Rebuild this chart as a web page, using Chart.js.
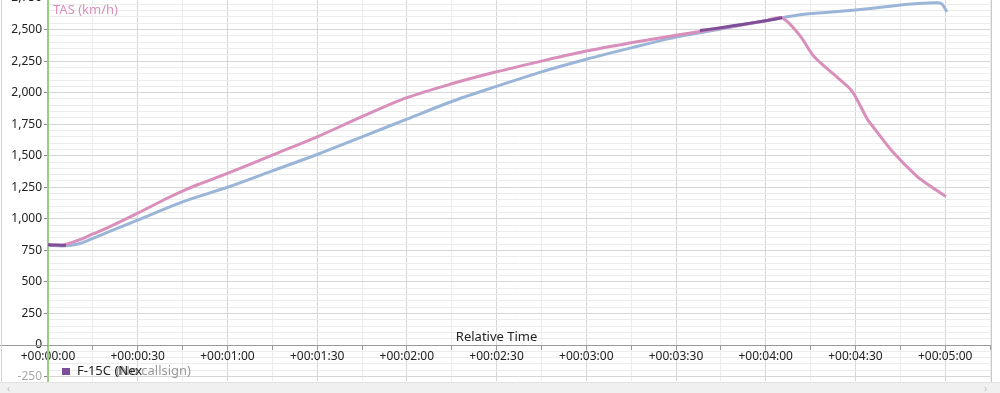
<!DOCTYPE html>
<html>
<head>
<meta charset="utf-8">
<script src="https://cdn.jsdelivr.net/npm/chart.js@4/dist/chart.umd.min.js"></script>
<style>
  body { margin: 0; background: #fff; }
  #wrap { position: relative; width: 1000px; height: 393px; overflow: hidden; }
  #box { position: absolute; left: 0; top: -20px; width: 1000px; height: 402px; }
  #edgeL { position: absolute; left: 1px; top: 0; width: 1px; height: 393px; background: #d4d4d4; }
  #edgeR { position: absolute; left: 991px; top: 0; width: 1px; height: 382px; background: #c8c8c8; }
  #scroll { position: absolute; left: 0; top: 382px; width: 1000px; height: 11px; background: #f0f0f0;
            border-top: 1px solid #e2e2e2; font: 10px "Noto Sans", sans-serif; color: #c0c0c0; }
  #scroll span { position: absolute; top: -2px; }
</style>
</head>
<body>
<div id="wrap">
  <div id="box"><canvas id="tasChart" width="1000" height="402"></canvas></div>
  <div id="edgeL"></div>
  <div id="edgeR"></div>
  <div id="scroll"><span style="left:7px">‹</span><span style="left:984px">›</span></div>
</div>
<script>
// TAS 데이터 (초, km/h)
const pinkTime = [0, 5, 10, 15, 20, 30, 40, 45, 50, 60, 75, 90, 105, 120, 135, 150, 165, 180, 195, 210, 225, 240, 245.5,
  251.5, 256, 262.5, 267.6, 269.5, 274, 276, 282.6, 290.6, 295, 300.3];
const pinkTas = [795, 792, 830, 880, 930, 1045, 1165, 1220, 1270, 1360, 1505, 1650, 1810, 1960, 2070, 2165, 2250, 2330, 2395, 2455, 2510, 2570, 2593,
  2450, 2290, 2150, 2045, 1990, 1790, 1726, 1527, 1336, 1260, 1177];

const blueTime = [0, 5, 10, 15, 20, 30, 45, 60, 75, 90, 105, 120, 135, 150, 165, 180, 195, 210, 225, 240, 251, 260, 270, 280, 285, 290, 297.7, 299, 300.6];
const blueTas = [790, 785, 800, 845, 895, 990, 1135, 1250, 1380, 1510, 1650, 1790, 1930, 2050, 2165, 2265, 2355, 2440, 2505, 2570, 2615, 2635, 2655, 2680, 2695, 2705, 2712, 2700, 2640];

const purpleTime = [0, 3, 6, null, 218, 225, 232, 240, 245.5];
const purpleTas = [795, 792, 790, null, 2492, 2515, 2540, 2570, 2593];

// 눈금 (y: 50 간격 보조선, 250마다 라벨)
const yFirstTick = -250;
const yLastTick = 2750;
const yStep = 50;

const legendName = 'F-15C (Nex';
const legendSub = '(No callsign)';

function pts(ts, vs) {
  return ts.map((t, i) => ({ x: t, y: vs[i] }));
}

function fmtTime(s) {
  const m = Math.floor(s / 60);
  const r = s % 60;
  return '+00:0' + m + ':' + (r < 10 ? '0' : '') + r;
}

const extras = {
  id: 'extras',
  afterDraw(chart) {
    const c = chart.ctx;
    const xs = chart.scales.x;
    const ys = chart.scales.y;
    const area = chart.chartArea;
    const y0 = ys.getPixelForValue(0);
    c.save();
    // 축선 왼쪽 연장
    c.strokeStyle = '#9a9a9a';
    c.lineWidth = 1;
    c.beginPath();
    c.moveTo(0, Math.round(y0) + 0.5);
    c.lineTo(area.left, Math.round(y0) + 0.5);
    c.stroke();
    // 축 제목
    c.font = '13px "Noto Sans"';
    c.fillStyle = '#222';
    c.textAlign = 'center';
    c.textBaseline = 'middle';
    c.fillText('Relative Time', xs.getPixelForValue(150), y0 - 8);
    c.textAlign = 'left';
    c.fillStyle = '#d98fbb';
    c.fillText('TAS (km/h)', area.left + 5, area.top + 12);
    // 범례
    const ly = area.bottom - 10;
    c.fillStyle = '#7c4f98';
    c.fillRect(62, ly - 3, 8, 7);
    c.font = '13px "Noto Sans"';
    c.fillStyle = '#9a9a9a';
    c.textAlign = 'right';
    c.fillText(legendSub, 191, ly);
    c.fillStyle = '#222';
    c.textAlign = 'left';
    c.fillText(legendName, 77, ly);
    c.restore();
  }
};

const ctx = document.getElementById('tasChart').getContext('2d');
new Chart(ctx, {
  type: 'line',
  data: {
    datasets: [
      {
        label: 'F-15C',
        data: pts(purpleTime, purpleTas),
        borderColor: '#7c4f98',
        borderWidth: 3,
        pointRadius: 0,
        tension: 0.3,
        spanGaps: false,
        order: 0
      },
      {
        label: 'pink',
        data: pts(pinkTime, pinkTas),
        borderColor: '#d98fbb',
        borderWidth: 3,
        pointRadius: 0,
        tension: 0.3,
        order: 1
      },
      {
        label: 'blue',
        data: pts(blueTime, blueTas),
        borderColor: '#9ab5d8',
        borderWidth: 3,
        pointRadius: 0,
        tension: 0.3,
        order: 2
      }
    ]
  },
  options: {
    responsive: false,
    animation: false,
    devicePixelRatio: 1,
    layout: { autoPadding: false, padding: { left: 0, right: 10, top: 18, bottom: 1 } },
    plugins: { legend: { display: false }, tooltip: { enabled: false } },
    scales: {
      x: {
        type: 'linear',
        position: { y: 0 },
        min: 0,
        max: 315,
        afterFit(scale) { scale.paddingLeft = 0; scale.paddingRight = 0; scale.paddingTop = 0; scale.paddingBottom = 0; },
        ticks: {
          stepSize: 15,
          autoSkip: false,
          maxRotation: 0,
          padding: 0,
          color: '#222',
          font: { family: 'Noto Sans', size: 12 },
          callback: v => (v % 30 === 0 ? fmtTime(v) : '')
        },
        grid: {
          color: c => (c.tick && c.tick.value % 30 === 0 ? '#d6d6d6' : '#ececec'),
          tickLength: 4,
          tickColor: '#9a9a9a'
        },
        border: { color: '#9a9a9a', width: 1 }
      },
      y: {
        min: -285,
        max: 2750,
        afterBuildTicks(scale) {
          const t = [];
          for (let v = yFirstTick; v <= yLastTick; v += yStep) t.push({ value: v });
          scale.ticks = t;
        },
        afterFit(scale) { scale.width = 48; scale.paddingTop = 0; scale.paddingBottom = 0; },
        ticks: {
          autoSkip: false,
          padding: 2,
          color: c => (c.tick && c.tick.value < 0 ? '#a8a8a8' : '#222'),
          font: { family: 'Noto Sans', size: 12 },
          callback: v => (v % 250 === 0 ? v.toLocaleString('en-US') : '')
        },
        grid: {
          color: c => (c.tick && c.tick.value % 250 === 0 ? '#d6d6d6' : '#ececec'),
          tickLength: 4,
          tickColor: c => (c.tick && c.tick.value % 250 === 0 ? '#888' : 'rgba(0,0,0,0)')
        },
        border: { color: '#96d080', width: 2 }
      }
    }
  },
  plugins: [extras]
});
</script>
</body>
</html>
